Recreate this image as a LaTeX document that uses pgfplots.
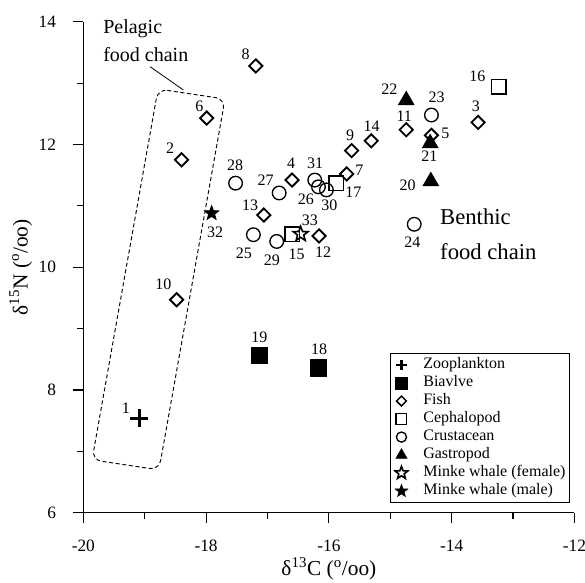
\documentclass[border=0pt]{standalone}
\usepackage{fontspec}
\setmainfont{Liberation Serif}
\usepackage{pgfplots}
\pgfplotsset{compat=1.18}

\pgfdeclareplotmark{fstar}{%
  \pgfpathmoveto{\pgfpointpolar{90}{\pgfplotmarksize}}%
  \pgfpathlineto{\pgfpointpolar{126}{0.42\pgfplotmarksize}}%
  \pgfpathlineto{\pgfpointpolar{162}{\pgfplotmarksize}}%
  \pgfpathlineto{\pgfpointpolar{198}{0.42\pgfplotmarksize}}%
  \pgfpathlineto{\pgfpointpolar{234}{\pgfplotmarksize}}%
  \pgfpathlineto{\pgfpointpolar{270}{0.42\pgfplotmarksize}}%
  \pgfpathlineto{\pgfpointpolar{306}{\pgfplotmarksize}}%
  \pgfpathlineto{\pgfpointpolar{342}{0.42\pgfplotmarksize}}%
  \pgfpathlineto{\pgfpointpolar{18}{\pgfplotmarksize}}%
  \pgfpathlineto{\pgfpointpolar{54}{0.42\pgfplotmarksize}}%
  \pgfpathclose
  \pgfusepathqfillstroke
}
\pgfdeclareplotmark{ostar}{%
  \pgfpathmoveto{\pgfpointpolar{90}{\pgfplotmarksize}}%
  \pgfpathlineto{\pgfpointpolar{126}{0.42\pgfplotmarksize}}%
  \pgfpathlineto{\pgfpointpolar{162}{\pgfplotmarksize}}%
  \pgfpathlineto{\pgfpointpolar{198}{0.42\pgfplotmarksize}}%
  \pgfpathlineto{\pgfpointpolar{234}{\pgfplotmarksize}}%
  \pgfpathlineto{\pgfpointpolar{270}{0.42\pgfplotmarksize}}%
  \pgfpathlineto{\pgfpointpolar{306}{\pgfplotmarksize}}%
  \pgfpathlineto{\pgfpointpolar{342}{0.42\pgfplotmarksize}}%
  \pgfpathlineto{\pgfpointpolar{18}{\pgfplotmarksize}}%
  \pgfpathlineto{\pgfpointpolar{54}{0.42\pgfplotmarksize}}%
  \pgfpathclose
  \pgfusepathqstroke
}
\tikzset{lbl/.style={font=\fontsize{12}{14}\selectfont, inner sep=0pt}}

\begin{document}
\begin{tikzpicture}
\begin{axis}[
  at={(0pt,0pt)}, anchor=south west,
  width=368.4pt, height=368.3pt, scale only axis,
  xmin=-20, xmax=-12, ymin=6, ymax=14,
  axis lines*=left,
  axis line style={line width=0.9pt, black},
  tick align=outside,
  major tick length=8pt, minor tick length=4.5pt,
  every tick/.style={line width=0.9pt, black},
  xtick={-20,-18,-16,-14,-12}, xticklabels={-20,-18,-16,-14,-12},
  ytick={6,8,10,12,14}, yticklabels={6,8,10,12,14},
  minor x tick num=1, minor y tick num=1,
  ticklabel style={font=\fontsize{13}{15}\selectfont},
  xticklabel style={yshift=-9pt},
  yticklabel style={xshift=-9pt},
  xlabel={δ\textsuperscript{13}C (\textsuperscript{o}/oo)},
  ylabel={δ\textsuperscript{15}N (\textsuperscript{o}/oo)},
  label style={font=\fontsize{16}{18}\selectfont},
  xlabel style={at={(axis description cs:0.5,-0.1144)}, anchor=center},
  ylabel style={at={(axis description cs:-0.1274,0.5)}, anchor=center},
  clip=false,
  legend image code/.code={\draw[#1] plot[only marks] coordinates {(4.5pt,0pt)}; \path (0pt,-3pt) (9pt,3pt);},
  legend style={at={(0.9908,0.02)}, anchor=south east, draw=black, line width=0.7pt,
    font=\fontsize{12}{14}\selectfont, inner xsep=3pt, inner ysep=3pt,
    row sep=2.4pt, column sep=11pt,
    nodes={inner sep=0pt, text height=8.4pt, text depth=2.7pt}},
  legend cell align=left,
]
% legend images
\addlegendimage{black, mark=+, mark size=3.8pt, line width=1.8pt}
\addlegendentry{Zooplankton}
\addlegendimage{black, fill=black, mark=square*, mark size=4.5pt, line width=0.6pt}
\addlegendentry{Biavlve}
\addlegendimage{black, mark=square, mark size=2.6pt, mark options={rotate=45}, line width=1.1pt}
\addlegendentry{Fish}
\addlegendimage{black, mark=square, mark size=4pt, line width=1pt}
\addlegendentry{Cephalopod}
\addlegendimage{black, mark=o, mark size=3.8pt, line width=1pt}
\addlegendentry{Crustacean}
\addlegendimage{black, fill=black, mark=triangle*, mark size=4.8pt, line width=0.4pt}
\addlegendentry{Gastropod}
\addlegendimage{black, mark=ostar, mark size=5pt, line width=1.2pt}
\addlegendentry{Minke whale (female)}
\addlegendimage{black, fill=black, mark=fstar, mark size=5pt, line width=0.4pt}
\addlegendentry{Minke whale (male)}

% Zooplankton
\addplot[only marks, black, mark=+, mark size=6.6pt, line width=2.2pt, forget plot]
  coordinates {(-19.09,7.54)};
% Biavlve
\addplot[only marks, black, fill=black, mark=square*, mark size=6.2pt, line width=0.8pt, forget plot]
  coordinates {(-17.13,8.56) (-16.17,8.36)};
% Fish
\addplot[only marks, black, mark=square, mark size=3.5pt, mark options={rotate=45}, line width=1.4pt, forget plot]
  coordinates {(-18.40,11.75) (-13.57,12.36) (-16.60,11.42) (-14.33,12.15) (-17.99,12.43)
               (-15.71,11.52) (-17.19,13.28) (-15.63,11.90) (-18.48,9.47) (-14.74,12.24)
               (-16.16,10.51) (-17.06,10.85) (-15.31,12.06)};
% Cephalopod
\addplot[only marks, black, mark=square, mark size=5.5pt, line width=1.25pt, forget plot]
  coordinates {(-16.60,10.54) (-13.23,12.94) (-15.88,11.37)};
% Crustacean
\addplot[only marks, black, mark=o, mark size=5.1pt, line width=1pt, forget plot]
  coordinates {(-14.33,12.48) (-14.61,10.70) (-17.23,10.53) (-16.17,11.31) (-16.81,11.21)
               (-17.52,11.37) (-16.85,10.42) (-16.04,11.26) (-16.23,11.42)};
% Gastropod
\addplot[only marks, black, fill=black, mark=triangle*, mark size=6.8pt, line width=0.5pt, forget plot]
  coordinates {(-14.34,11.40) (-14.35,12.02) (-14.74,12.72)};
% Minke whale female
\addplot[only marks, black, mark=ostar, mark size=5.8pt, line width=1.2pt, forget plot]
  coordinates {(-16.46,10.54)};
% Minke whale male
\addplot[only marks, black, fill=black, mark=fstar, mark size=5.8pt, line width=0.5pt, forget plot]
  coordinates {(-17.91,10.88)};

% point labels
\node[lbl] at (axis cs:-19.305,7.704) {1};
\node[lbl] at (axis cs:-18.588,11.938) {2};
\node[lbl] at (axis cs:-13.604,12.627) {3};
\node[lbl] at (axis cs:-16.617,11.694) {4};
\node[lbl] at (axis cs:-14.104,12.182) {5};
\node[lbl] at (axis cs:-18.111,12.616) {6};
\node[lbl] at (axis cs:-15.505,11.573) {7};
\node[lbl] at (axis cs:-17.355,13.469) {8};
\node[lbl] at (axis cs:-15.656,12.155) {9};
\node[lbl] at (axis cs:-18.697,9.723) {10};
\node[lbl] at (axis cs:-14.772,12.464) {11};
\node[lbl] at (axis cs:-16.096,10.241) {12};
\node[lbl] at (axis cs:-17.285,11.015) {13};
\node[lbl] at (axis cs:-15.303,12.301) {14};
\node[lbl] at (axis cs:-16.524,10.217) {15};
\node[lbl] at (axis cs:-13.583,13.116) {16};
\node[lbl] at (axis cs:-15.603,11.215) {17};
\node[lbl] at (axis cs:-16.161,8.669) {18};
\node[lbl] at (axis cs:-17.134,8.860) {19};
\node[lbl] at (axis cs:-14.717,11.340) {20};
\node[lbl] at (axis cs:-14.365,11.813) {21};
\node[lbl] at (axis cs:-15.016,12.899) {22};
\node[lbl] at (axis cs:-14.244,12.762) {23};
\node[lbl] at (axis cs:-14.642,10.407) {24};
\node[lbl] at (axis cs:-17.383,10.225) {25};
\node[lbl] at (axis cs:-16.373,11.112) {26};
\node[lbl] at (axis cs:-17.029,11.422) {27};
\node[lbl] at (axis cs:-17.529,11.655) {28};
\node[lbl] at (axis cs:-16.927,10.119) {29};
\node[lbl] at (axis cs:-15.993,11.015) {30};
\node[lbl] at (axis cs:-16.226,11.694) {31};
\node[lbl] at (axis cs:-17.855,10.570) {32};
\node[lbl] at (axis cs:-16.308,10.770) {33};

% annotations
\draw[dashed, dash pattern=on 3pt off 2pt, line width=0.7pt, rounded corners=7pt]
  (axis cs:-18.783,12.904) -- (axis cs:-17.692,12.741) -- (axis cs:-18.767,6.699)
  -- (axis cs:-19.858,6.862) -- cycle;
\draw[line width=0.6pt] (axis cs:-18.912,13.267) -- (axis cs:-18.371,12.889);
\node[anchor=west, align=left, inner sep=0pt, font=\fontsize{15}{21}\selectfont]
  at (axis cs:-19.679,13.686) {Pelagic\\food chain};
\node[anchor=west, align=left, inner sep=0pt, font=\fontsize{17}{26}\selectfont]
  at (axis cs:-14.191,10.542) {Benthic\\food chain};
\end{axis}
\pgfresetboundingbox
\path[use as bounding box] (-62.5pt,-52.65pt) rectangle (376.3pt,384.6pt);
\end{tikzpicture}
\end{document}
